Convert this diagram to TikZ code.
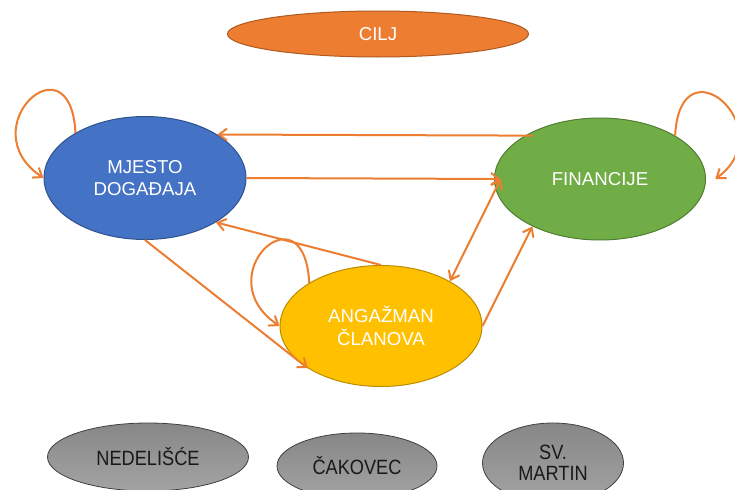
\documentclass[tikz,border=0pt]{standalone}
\usepackage{fontspec}
\setmainfont{Liberation Sans}
\newfontfamily\narrowfont[FakeStretch=0.88]{Liberation Sans}
\usetikzlibrary{shapes.geometric,arrows.meta}

\definecolor{orng}{HTML}{ED7D31}
\definecolor{orngdk}{HTML}{AE5A21}
\definecolor{blu}{HTML}{4472C4}
\definecolor{bludk}{HTML}{2F528F}
\definecolor{grn}{HTML}{70AD47}
\definecolor{grndk}{HTML}{507E32}
\definecolor{yel}{HTML}{FFC000}
\definecolor{yeldk}{HTML}{BC8C00}

\tikzset{
  elip/.style={ellipse,draw,line width=0.75pt,inner sep=0pt,align=center,
    text=white,font=\fontsize{14}{17}\selectfont},
  town/.style={ellipse,draw=black!75,line width=0.6pt,inner sep=0pt,align=center,
    top color=black!47,bottom color=black!36,text=black!90,
    font=\narrowfont\fontsize{15.5}{16}\selectfont},
  arr/.style={->,draw=orng,line width=1.5pt},
  arr2/.style={<->,draw=orng,line width=1.5pt}
}

\begin{document}
\begin{tikzpicture}[x=0.75pt,y=-0.75pt,>={Straight Barb[length=6pt,width=9pt]}]
\useasboundingbox (0,0) rectangle (735,489);

\node [elip,fill=orng,draw=orngdk,minimum width=225.75pt,minimum height=34.5pt] (v0) at (378,34) {CILJ};
\node [elip,fill=blu,draw=bludk,minimum width=151.5pt,minimum height=92.25pt] (v1) at (145,178) {MJESTO\\DOGAĐAJA};
\node [elip,fill=grn,draw=grndk,minimum width=158.25pt,minimum height=91.5pt] (v3) at (600,179) {FINANCIJE};
\node [elip,fill=yel,draw=yeldk,minimum width=151.5pt,minimum height=90.75pt] (v4) at (381,326) {ANGAŽMAN\\ČLANOVA};

\node [town,minimum width=150.75pt,minimum height=51pt] (v5) at (148,457) {NEDELIŠĆE};
\node [town,minimum width=120pt,minimum height=49.5pt] (v6) at (357,466) {ČAKOVEC};
\node [town,minimum width=105.75pt,minimum height=60pt] (v7) at (553,463) {SV.\\MARTIN};

% loops
\draw [arr] (v1.147) .. controls +(-5,-98) and +(-74,-50) .. (v1.west);
\draw [arr] (v4.149) .. controls +(-5,-98) and +(-74,-50) .. (v4.west);
\draw [arr] (v3.30) .. controls +(5,-98) and +(68,-50) .. ([xshift=7pt]v3.east);

% links
\draw [arr] ([xshift=6pt]v3.150) -- (v1.31);
\draw [arr] (v1.east) -- ([xshift=5pt]v3.west);
\draw [arr] (v4.north) -- (v1.-32);
\draw [arr] (v1.south) -- (v4.210);
\draw [arr2] (v4.33) -- ([xshift=5pt]v3.west);
\draw [arr] (v4.east) -- (v3.215);

\end{tikzpicture}
\end{document}
